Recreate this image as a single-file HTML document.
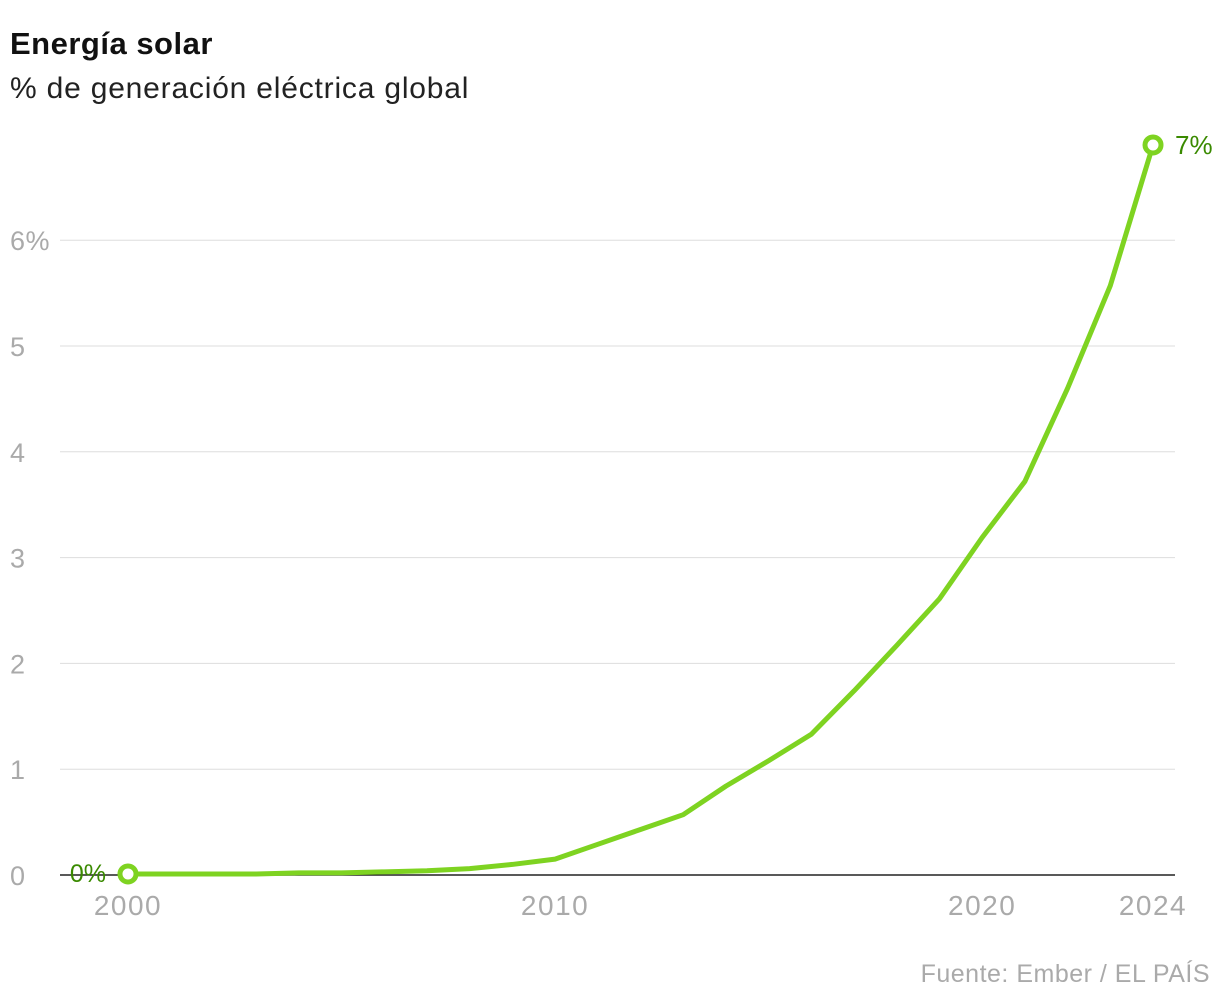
<!DOCTYPE html>
<html><head><meta charset="utf-8"><style>
body{margin:0;background:#fff;font-family:"Liberation Sans",sans-serif;}
svg{display:block}
</style></head><body>
<svg width="1220" height="1002">
<text x="10" y="54" font-size="31" font-weight="bold" fill="#111" letter-spacing="0.5">Energía solar</text>
<text x="10" y="98" font-size="30" fill="#222" letter-spacing="0.8">% de generación eléctrica global</text>
<g id="grid"></g><g id="ylab"></g><g id="xlab"></g>
<path id="line" fill="none" stroke="#7ed321" stroke-width="5" stroke-linejoin="round"/>
<g id="pts"></g>
<text x="1210" y="982" font-size="25" fill="#aaa" letter-spacing="0.5" text-anchor="end">Fuente: Ember / EL PAÍS</text>
</svg>
<script>
const years=[2000,2001,2002,2003,2004,2005,2006,2007,2008,2009,2010,2011,2012,2013,2014,2015,2016,2017,2018,2019,2020,2021,2022,2023,2024];
const values=[0.01,0.01,0.01,0.01,0.02,0.02,0.03,0.04,0.06,0.1,0.15,0.29,0.43,0.57,0.84,1.08,1.33,1.74,2.17,2.61,3.19,3.72,4.6,5.57,6.9];
const yTicks=[0,1,2,3,4,5,6];
const yTickLabels=["0","1","2","3","4","5","6%"];
const xTicks=[2000,2010,2020,2024];
const NS="http://www.w3.org/2000/svg";
const x=v=>128+(v-2000)*(1025/24);
const y=v=>875-v*105.8;
function mk(tag,attrs,parent,text){const e=document.createElementNS(NS,tag);for(const k in attrs)e.setAttribute(k,attrs[k]);if(text!==undefined)e.textContent=text;document.getElementById(parent).appendChild(e);return e;}
yTicks.forEach((t,i)=>{
 const l=mk('line',{x1:60,x2:1175,y1:y(t),y2:y(t),stroke:t===0?'#222':'#ddd','stroke-width':t===0?1.5:1},'grid');
 
 
 const tx=mk('text',{x:10,y:y(t)+10,'font-size':27,fill:'#aaa','letter-spacing':0.5},'ylab',yTickLabels[i]);
 
 
});
xTicks.forEach(t=>{
 const tx=mk('text',{x:x(t),y:915,'font-size':28,fill:'#aaa','text-anchor':'middle','letter-spacing':1.5},'xlab',String(t));
 
 
});
document.getElementById('line').setAttribute('d',years.map((yr,i)=>(i?'L':'M')+x(yr)+','+y(values[i])).join(''));
[0,years.length-1].forEach(i=>{
 const c=mk('circle',{cx:x(years[i]),cy:y(values[i]),r:8,fill:'#fff',stroke:'#7ed321','stroke-width':5},'pts');
 
 
});
const a=mk('text',{x:x(years[0])-22,y:y(values[0])+8,'font-size':25,fill:'#3a8a00','text-anchor':'end'},'pts','0%');


const b=mk('text',{x:x(years[24])+22,y:y(values[24])+9,'font-size':26,fill:'#3a8a00'},'pts','7%');


</script>
</body></html>
